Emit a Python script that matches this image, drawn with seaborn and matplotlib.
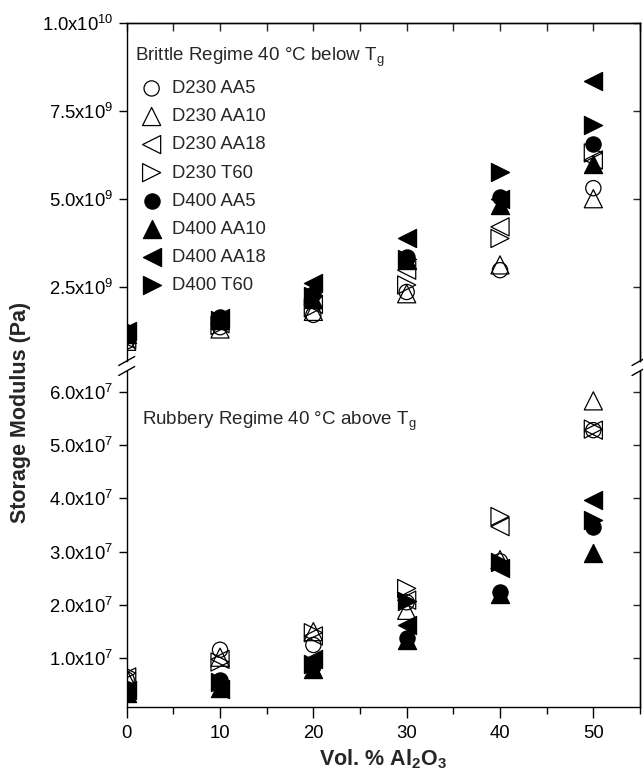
import numpy as np
import pandas as pd
import matplotlib
matplotlib.use("Agg")
import matplotlib.pyplot as plt
import seaborn as sns
from matplotlib.ticker import MultipleLocator, FuncFormatter
from matplotlib.lines import Line2D

# Valeurs
vol = [0, 10, 20, 30, 40, 50]
samples = ["D230 AA5", "D230 AA10", "D230 AA18", "D230 T60",
           "D400 AA5", "D400 AA10", "D400 AA18", "D400 T60"]

# Régime fragile (Pa, x1e9)
brittle_d230_aa5 = [0.95, 1.35, 1.70, 2.35, 2.97, 5.30]
brittle_d230_aa10 = [0.95, 1.30, 1.80, 2.30, 3.12, 5.00]
brittle_d230_aa18 = [1.00, 1.45, 2.00, 2.97, 4.20, 6.10]
brittle_d230_t60 = [1.00, 1.40, 1.90, 2.55, 3.87, 6.30]
brittle_d400_aa5 = [1.20, 1.65, 2.30, 3.35, 5.06, 6.55]
brittle_d400_aa10 = [1.15, 1.55, 2.15, 3.25, 4.82, 6.00]
brittle_d400_aa18 = [1.25, 1.60, 2.60, 3.87, 5.00, 8.34]
brittle_d400_t60 = [1.10, 1.55, 2.25, 3.30, 5.77, 7.09]

# Régime caoutchoutique (Pa, x1e7)
rubbery_d230_aa5 = [0.60, 1.16, 1.25, 2.05, 2.82, 5.28]
rubbery_d230_aa10 = [0.62, 1.02, 1.50, 1.90, 2.85, 5.83]
rubbery_d230_aa18 = [0.65, 0.98, 1.42, 2.09, 3.47, 5.28]
rubbery_d230_t60 = [0.72, 0.93, 1.48, 2.31, 3.66, 5.30]
rubbery_d400_aa5 = [0.42, 0.60, 0.85, 1.38, 2.25, 3.47]
rubbery_d400_aa10 = [0.35, 0.45, 0.80, 1.35, 2.20, 2.97]
rubbery_d400_aa18 = [0.40, 0.42, 0.98, 1.62, 2.70, 3.97]
rubbery_d400_t60 = [0.38, 0.55, 0.90, 2.08, 2.80, 3.60]

markers = ["o", "^", "<", ">", "o", "^", "<", ">"]
filled = [False, False, False, False, True, True, True, True]

brittle = [brittle_d230_aa5, brittle_d230_aa10, brittle_d230_aa18, brittle_d230_t60,
           brittle_d400_aa5, brittle_d400_aa10, brittle_d400_aa18, brittle_d400_t60]
rubbery = [rubbery_d230_aa5, rubbery_d230_aa10, rubbery_d230_aa18, rubbery_d230_t60,
           rubbery_d400_aa5, rubbery_d400_aa10, rubbery_d400_aa18, rubbery_d400_t60]

rows = []
for name, b, r in zip(samples, brittle, rubbery):
    for x, vb, vr in zip(vol, b, r):
        rows.append({"sample": name, "vol": x, "regime": "brittle", "modulus": vb * 1e9})
        rows.append({"sample": name, "vol": x, "regime": "rubbery", "modulus": vr * 1e7})
df = pd.DataFrame(rows)

sns.set_style("ticks")
plt.rcParams["font.family"] = ["Liberation Sans", "DejaVu Sans"]
plt.rcParams["mathtext.fontset"] = "custom"
plt.rcParams["mathtext.rm"] = "Liberation Sans"
plt.rcParams["mathtext.it"] = "Liberation Sans:italic"
plt.rcParams["mathtext.bf"] = "Liberation Sans:bold"

W, H = 643, 771
fig = plt.figure(figsize=(W / 100, H / 100), dpi=100)

x0, x1 = 126.7, 640.0
top_t, top_b = 22.7, 361.0
bot_t, bot_b = 371.0, 707.0
ax_top = fig.add_axes([x0 / W, 1 - top_b / H, (x1 - x0) / W, (top_b - top_t) / H])
ax_bot = fig.add_axes([x0 / W, 1 - bot_b / H, (x1 - x0) / W, (bot_b - bot_t) / H])


def sci_label(v, pos):
    if v <= 0:
        return ""
    exp = int(np.floor(np.log10(abs(v)) + 1e-9))
    mant = v / 10 ** exp
    return f"{mant:.1f}x10$^{{\\mathregular{{{exp}}}}}$"


for ax, regime, step in [(ax_top, "brittle", 2.5e9), (ax_bot, "rubbery", 1e7)]:
    sub = df[df["regime"] == regime]
    for name, m, f in zip(samples, markers, filled):
        d = sub[sub["sample"] == name]
        s = 120 if m == "o" else 170
        sns.scatterplot(data=d, x="vol", y="modulus", ax=ax, marker=m, s=s,
                        facecolor="black" if f else "none", edgecolor="black",
                        linewidth=0.9, label=name, legend=False, clip_on=True,
                        zorder=3 if f else 2)
    ax.set_xlim(0, 55)
    ax.set_xlabel("")
    ax.set_ylabel("")
    ax.xaxis.set_major_locator(MultipleLocator(10))
    ax.xaxis.set_minor_locator(MultipleLocator(5))
    ax.yaxis.set_major_locator(MultipleLocator(step))
    ax.yaxis.set_major_formatter(FuncFormatter(sci_label))
    ax.tick_params(axis="both", which="both", direction="out", length=6, width=1.0,
                   labelsize=13.3, colors="black")
    for sp in ax.spines.values():
        sp.set_linewidth(1.0)
        sp.set_color("black")
        sp.set_visible(True)
    sec = ax.secondary_yaxis("right")
    sec.yaxis.set_major_locator(MultipleLocator(step))
    sec.tick_params(direction="in", length=5, width=1.0, labelright=False)
    sec.spines["right"].set_linewidth(1.0)

ax_top.set_ylim(0.39e9, 1.0e10)
ax_top.spines["bottom"].set_visible(False)
ax_top.tick_params(axis="x", which="both", bottom=False, labelbottom=False)
sec_top = ax_top.secondary_xaxis("top")
sec_top.xaxis.set_major_locator(MultipleLocator(5))
sec_top.tick_params(direction="in", length=6, width=1.0, labeltop=False)
sec_top.spines["top"].set_linewidth(1.0)

ax_bot.set_ylim(0.086e7, 6.39e7)
ax_bot.spines["top"].set_visible(False)
ax_bot.tick_params(axis="x", which="major", length=8, pad=5, labelsize=13.3)
ax_bot.tick_params(axis="x", which="minor", length=5)

# Légende du régime fragile
handles, labels = ax_top.get_legend_handles_labels()
leg = ax_top.legend(handles, labels, loc="upper left",
                    bbox_to_anchor=((135 - x0) / (x1 - x0), 1 - (46 - top_t) / (top_b - top_t)),
                    frameon=False, fontsize=13.3,
                    title="Brittle Regime 40 °C below T$_\\mathregular{g}$",
                    title_fontsize=13.5, alignment="left", borderpad=0, borderaxespad=0,
                    handlelength=1.8, handletextpad=0.2, labelspacing=0.6)

ax_bot.text(1.6, 5.37e7, "Rubbery Regime 40 °C above T$_\\mathregular{g}$", fontsize=13.5,
            va="baseline", ha="left")

ax_bot.set_xlabel("Vol. % Al$_\\mathbf{2}$O$_\\mathbf{3}$", fontsize=15.5, fontweight="bold")
ax_bot.xaxis.set_label_coords(0.5, -0.12)
fig.text(21 / W, 1 - 412 / H, "Storage Modulus (Pa)", rotation=90, fontsize=15.5,
         fontweight="bold", ha="center", va="center")

# Marques de coupure d'axe
for xc in (x0, x1):
    for yc in (top_b, bot_t):
        fig.add_artist(Line2D([(xc - 8) / W, (xc + 8) / W],
                              [1 - (yc + 4.5) / H, 1 - (yc - 4.5) / H],
                              color="black", lw=1.0, transform=fig.transFigure))

fig.savefig("out.png", dpi=100)
